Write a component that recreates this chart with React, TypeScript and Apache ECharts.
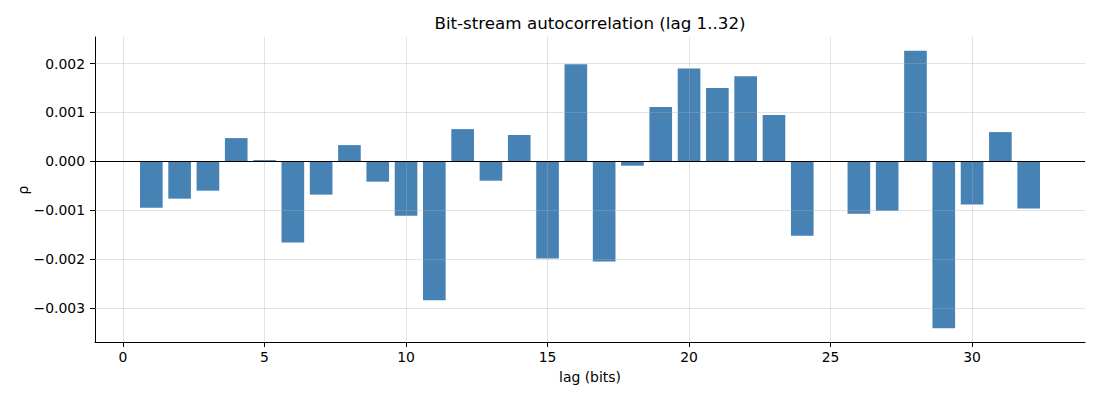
import React, { useEffect, useRef } from "react";
import * as echarts from "echarts";

const lags = [
  1, 2, 3, 4, 5, 6, 7, 8, 9, 10, 11, 12, 13, 14, 15, 16,
  17, 18, 19, 20, 21, 22, 23, 24, 25, 26, 27, 28, 29, 30, 31, 32,
];
const rho = [
  -0.000946, -0.000762, -0.000599, 0.000476, 0.000027, -0.00166, -0.00068, 0.000333,
  -0.000415, -0.00111, -0.00284, 0.00066, -0.000395, 0.000537, -0.001986, 0.001986,
  -0.002048, -0.000088, 0.00111, 0.0019, 0.0015, 0.00174, 0.000946, -0.00152,
  0.0, -0.00107, -0.00101, 0.00226, -0.00341, -0.000884, 0.000599, -0.000966,
];
const xTicks = [0, 5, 10, 15, 20, 25, 30];
const yTicks = [-0.003, -0.002, -0.001, 0, 0.001, 0.002];
const titleText = "Bit-stream autocorrelation (lag 1..32)";
const xLabelText = "lag (bits)";
const yLabelText = "ρ";

const FONT = "DejaVu Sans";

export default function App() {
  const ref = useRef<HTMLDivElement>(null);
  useEffect(() => {
    if (!ref.current) return;
    const chart = echarts.init(ref.current, undefined, { renderer: "svg" });

    const barW = 0.8;
    const gridLeft = 95;
    const gridRight = 15;
    const gridTop = 37;
    const gridBottom = 58;
    const gridW = 1100 - gridLeft - gridRight;

    const xLo = Math.min(...lags) - barW / 2;
    const xHi = Math.max(...lags) + barW / 2;
    const xPad = (xHi - xLo) * 0.05;
    const xMin = xLo - xPad;
    const xMax = xHi + xPad;

    const yLo = Math.min(0, ...rho);
    const yHi = Math.max(0, ...rho);
    const yPad = (yHi - yLo) * 0.05;
    const yMin = yLo - yPad;
    const yMax = yHi + yPad;

    const barPx = (barW * gridW) / (xMax - xMin);

    const gridColor = "rgba(176,176,176,0.35)";

    const fmtY = (v: number) => {
      const s = Math.abs(v) < 1e-12 ? "0.000" : v.toFixed(3);
      return s.replace("-", "\u2212");
    };

    const gridLineItems = [
      ...yTicks.map((v) => [
        { coord: [xMin, v] },
        { coord: [xMax, v] },
      ]),
      ...xTicks.map((v) => [
        { coord: [v, yMin] },
        { coord: [v, yMax] },
      ]),
    ];

    chart.setOption({
      animation: false,
      textStyle: { fontFamily: FONT },
      grid: { left: gridLeft, right: gridRight, top: gridTop, bottom: gridBottom },
      xAxis: {
        type: "value",
        min: xMin,
        max: xMax,
        axisLine: { show: true, onZero: false, lineStyle: { color: "#000", width: 1 } },
        axisTick: {
          show: true,
          inside: false,
          length: 5,
          customValues: xTicks,
          lineStyle: { color: "#000", width: 1 },
        },
        axisLabel: {
          customValues: xTicks,
          margin: 8,
          color: "#000",
          fontSize: 13.9,
          fontFamily: FONT,
          formatter: (v: number) => String(v),
        },
        splitLine: { show: false },
      },
      yAxis: {
        type: "value",
        min: yMin,
        max: yMax,
        axisLine: { show: true, onZero: false, lineStyle: { color: "#000", width: 1 } },
        axisTick: {
          show: true,
          inside: false,
          length: 5,
          customValues: yTicks,
          lineStyle: { color: "#000", width: 1 },
        },
        axisLabel: {
          customValues: yTicks,
          margin: 10,
          color: "#000",
          fontSize: 13.9,
          fontFamily: FONT,
          formatter: fmtY,
        },
        splitLine: { show: false },
      },
      series: [
        {
          type: "bar",
          data: lags.map((l, i) => [l, rho[i]]),
          barWidth: barPx,
          itemStyle: { color: "#4682b4" },
        },
        {
          type: "line",
          data: [],
          z: 10,
          silent: true,
          markLine: {
            silent: true,
            symbol: "none",
            animation: false,
            z: 10,
            label: { show: false },
            lineStyle: { color: gridColor, width: 1, type: "solid" },
            data: [
              ...gridLineItems,
              [
                { coord: [xMin, 0], lineStyle: { color: "#000", width: 1, type: "solid" } },
                { coord: [xMax, 0] },
              ],
            ],
          },
        },
      ],
      graphic: [
        {
          type: "text",
          x: gridLeft + gridW / 2,
          y: 23,
          style: {
            text: titleText,
            align: "center",
            verticalAlign: "middle",
            fill: "#000",
            font: `16.7px "${FONT}"`,
          },
        },
        {
          type: "text",
          x: gridLeft + gridW / 2,
          y: 377,
          style: {
            text: xLabelText,
            align: "center",
            verticalAlign: "middle",
            fill: "#000",
            font: `13.9px "${FONT}"`,
          },
        },
        {
          type: "text",
          x: 23,
          y: 190,
          rotation: Math.PI / 2,
          style: {
            text: yLabelText,
            align: "center",
            verticalAlign: "middle",
            fill: "#000",
            font: `13.9px "${FONT}"`,
          },
        },
      ],
    });

    return () => chart.dispose();
  }, []);

  return (
    <div
      ref={ref}
      style={{ position: "absolute", left: 0, top: 0, width: 1100, height: 400 }}
    />
  );
}
